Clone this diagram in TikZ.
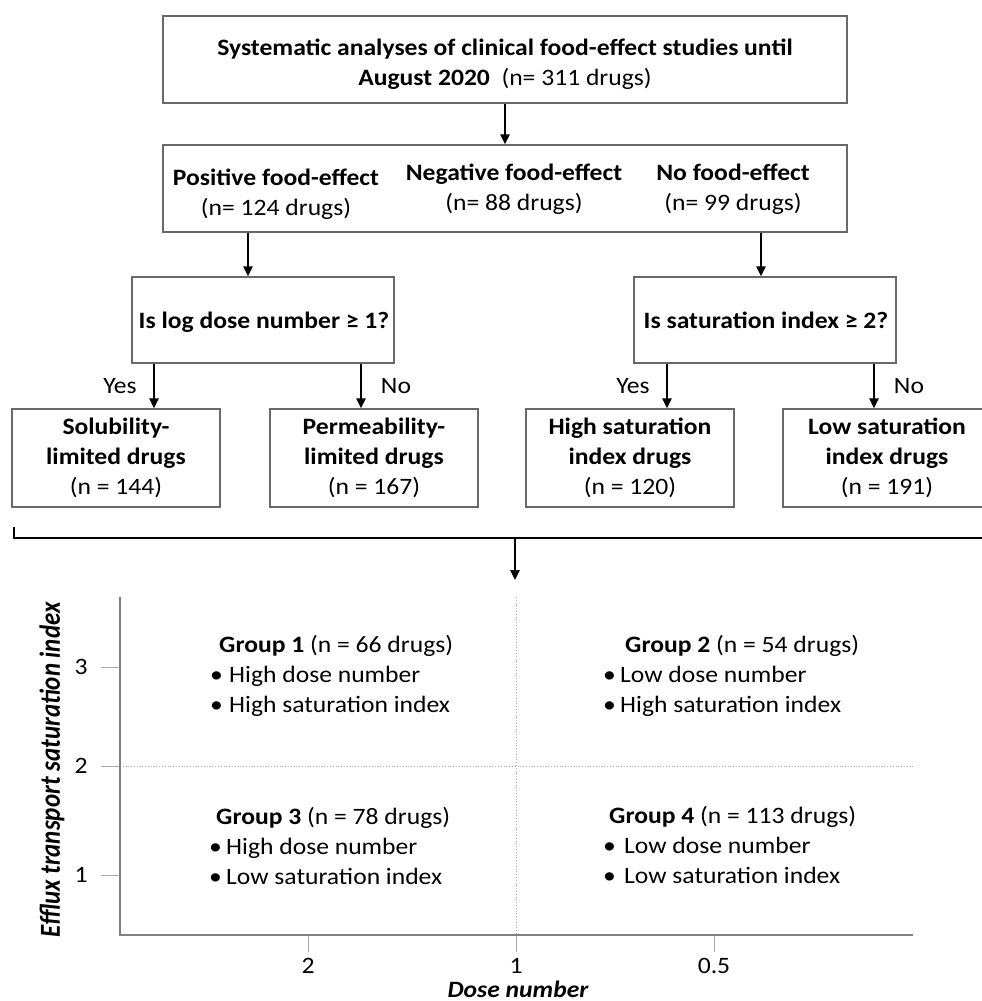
\documentclass[tikz,border=0pt]{standalone}
\usepackage{fontspec}
\usepackage{graphicx}
\setmainfont{Carlito}[FakeStretch=1.09]
\newfontfamily\ylabfont{Carlito}
\usetikzlibrary{arrows.meta}
\definecolor{boxc}{RGB}{105,105,105}
\definecolor{axc}{RGB}{128,128,128}
\definecolor{gridc}{RGB}{170,170,170}
\tikzset{
  box/.style={draw=boxc, line width=1.1pt, fill=white, inner sep=0pt},
  txt/.style={font=\fontsize{23.5}{30}\selectfont, inner sep=0pt, align=center},
  ln/.style={font=\fontsize{23.5}{30}\selectfont, inner sep=0pt, text height=16pt, text depth=5pt},
  arr/.style={line width=2.4pt, -{Triangle[length=10pt,width=9pt]}},
  axis/.style={draw=axc, line width=1.6pt},
  gridl/.style={draw=gridc, line width=0.8pt, dotted},
  tick/.style={draw=gridc, line width=1pt},
}
\begin{document}
\begin{tikzpicture}[x=1pt,y=-1pt]
\useasboundingbox (0,0) rectangle (982,1001);
% top box
\node[box, minimum width=684pt, minimum height=87pt] (top) at (505,59.5) {};
\node[txt] (toptext) at (505,64) {\textbf{Systematic analyses of clinical food-effect studies until}\\\textbf{August 2020}\ \ (n= 311 drugs)};
% food effect box
\node[box, minimum width=684pt, minimum height=87pt] (fe) at (505,188.5) {};
\node[txt] (pos) at (276,194) {\textbf{Positive food-effect}\\(n= 124 drugs)};
\node[txt] (neg) at (514,189) {\textbf{Negative food-effect}\\(n= 88 drugs)};
\node[txt] (nof) at (733,189) {\textbf{No food-effect}\\(n= 99 drugs)};
\draw[arr] (top.south) -- (fe.north);
% decision boxes
\node[box, minimum width=262pt, minimum height=86pt] (dl) at (263,320) {};
\node[ln, font=\fontsize{23.5}{30}\selectfont\bfseries] (dltext) at (264,323) {Is log dose number ≥ 1?};
\node[box, minimum width=262pt, minimum height=86pt] (dr) at (765,320) {};
\node[ln, font=\fontsize{23.5}{30}\selectfont\bfseries] (drtext) at (766,323) {Is saturation index ≥ 2?};
\coordinate (c1) at (248,0);
\coordinate (c2) at (761,0);
\draw[arr] (fe.south -| c1) -- (dl.north -| c1);
\draw[arr] (fe.south -| c2) -- (dr.north -| c2);
% result boxes
\node[box, txt, minimum width=208pt, minimum height=98pt] (sol) at (116,458) {\textbf{Solubility-}\\\textbf{limited drugs}\\(n = 144)};
\node[box, txt, minimum width=208pt, minimum height=98pt] (per) at (374,458) {\textbf{Permeability-}\\\textbf{limited drugs}\\(n = 167)};
\node[box, txt, minimum width=208pt, minimum height=98pt] (hsi) at (630,458) {\textbf{High saturation}\\\textbf{index drugs}\\(n = 120)};
\node[box, txt, minimum width=208pt, minimum height=98pt] (lsi) at (887,458) {\textbf{Low saturation}\\\textbf{index drugs}\\(n = 191)};
\coordinate (c3) at (154,0);
\coordinate (c4) at (361,0);
\coordinate (c5) at (667,0);
\coordinate (c6) at (874,0);
\draw[arr] (dl.south -| c3) -- (sol.north -| c3);
\draw[arr] (dl.south -| c4) -- (per.north -| c4);
\draw[arr] (dr.south -| c5) -- (hsi.north -| c5);
\draw[arr] (dr.south -| c6) -- (lsi.north -| c6);
\node[ln] (y1) at (120,388) {Yes};
\node[ln] (n1) at (396,388) {No};
\node[ln] (y2) at (633,388) {Yes};
\node[ln] (n2) at (909,388) {No};
% bracket
\coordinate (bl) at (14,527);
\coordinate (blc) at (14,538);
\coordinate (br) at (990,538);
\coordinate (bm) at (515,538);
\coordinate (pt) at (515,580);
\draw[line width=1.8pt] (bl) -- (blc) -- (br);
\draw[arr] (bm) -- (pt);
% plot
\coordinate (o) at (120,935);
\coordinate (ytop) at (120,597);
\coordinate (xend) at (913,935);
\coordinate (vg1) at (516,597);
\coordinate (vg2) at (516,935);
\coordinate (hg1) at (120,766);
\coordinate (hg2) at (913,766);
\draw[gridl] (vg1) -- (vg2);
\draw[gridl] (hg1) -- (hg2);
\foreach \yy/\lab in {667/3,766/2,875/1}{
  \draw[tick] (101,\yy) -- (120,\yy);
  \node[ln] at (81,\yy+2) {\lab};
}
\foreach \xx/\lab in {308/2,516/1,714/0.5}{
  \draw[tick] (\xx,935) -- (\xx,952);
  \node[ln] at (\xx,968) {\lab};
}
\draw[axis] (ytop) -- (o) -- (xend);
\node[ln, text depth=4pt, font=\fontsize{23.5}{30}\selectfont\bfseries\itshape] (xlab) at (518,991) {Dose number};
\node[inner sep=0pt, rotate=90] (ylab) at (52,770) {\resizebox{335pt}{\height}{\fontsize{29}{30}\ylabfont\bfseries\itshape Efflux transport saturation index}};
% groups
\node[ln, anchor=west] (g1) at (219,647) {\textbf{Group 1} (n = 66 drugs)};
\node[ln, anchor=west] (g1a) at (210,677) {\makebox[19pt][l]{•}High dose number};
\node[ln, anchor=west] (g1b) at (210,707) {\makebox[19pt][l]{•}High saturation index};
\node[ln, anchor=west] (g2) at (625,647) {\textbf{Group 2} (n = 54 drugs)};
\node[ln, anchor=west] (g2a) at (603,677) {\makebox[17pt][l]{•}Low dose number};
\node[ln, anchor=west] (g2b) at (603,707) {\makebox[17pt][l]{•}High saturation index};
\node[ln, anchor=west] (g3) at (216,819) {\textbf{Group 3} (n = 78 drugs)};
\node[ln, anchor=west] (g3a) at (209,849) {\makebox[17pt][l]{•}High dose number};
\node[ln, anchor=west] (g3b) at (209,879) {\makebox[17pt][l]{•}Low saturation index};
\node[ln, anchor=west] (g4) at (609,818) {\textbf{Group 4} (n = 113 drugs)};
\node[ln, anchor=west] (g4a) at (603,848) {\makebox[21pt][l]{•}Low dose number};
\node[ln, anchor=west] (g4b) at (603,878) {\makebox[21pt][l]{•}Low saturation index};
\end{tikzpicture}
\end{document}
